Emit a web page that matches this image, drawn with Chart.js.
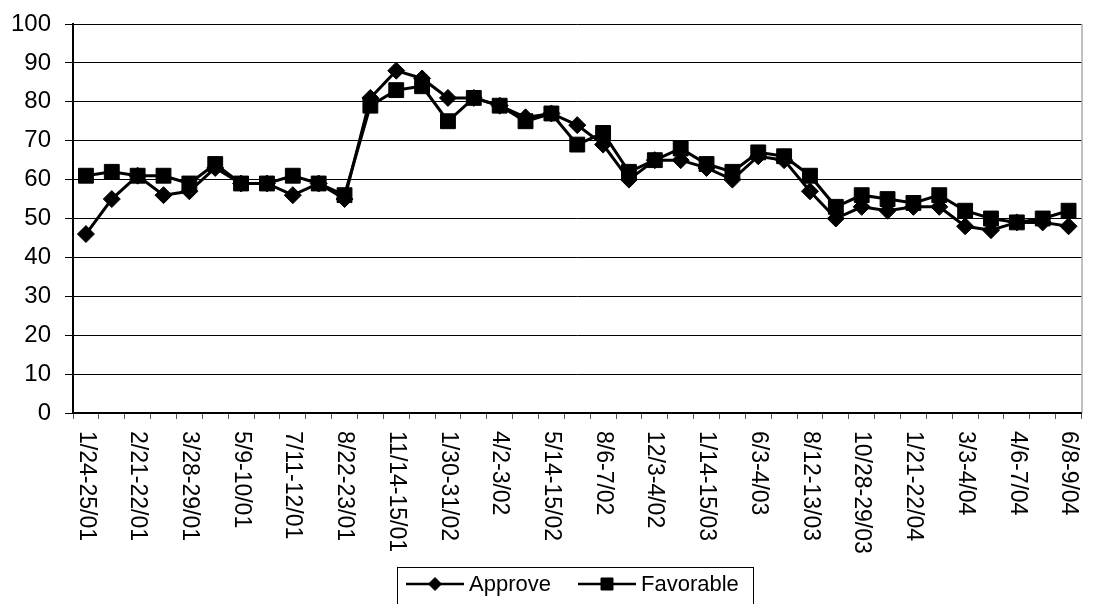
<!DOCTYPE html>
<html>
<head>
<meta charset="utf-8">
<script src="https://cdn.jsdelivr.net/npm/chart.js@4/dist/chart.umd.min.js"></script>
<style>
  html, body { margin: 0; padding: 0; background: #fff; }
</style>
</head>
<body>
<canvas id="poll" width="1093" height="604"></canvas>
<script>
// Poll dates, one label for every second survey
const dateLabels = [
    '1/24-25/01', '2/21-22/01', '3/28-29/01', '5/9-10/01', '7/11-12/01',
    '8/22-23/01', '11/14-15/01', '1/30-31/02', '4/2-3/02', '5/14-15/02',
    '8/6-7/02', '12/3-4/02', '1/14-15/03', '6/3-4/03', '8/12-13/03',
    '10/28-29/03', '1/21-22/04', '3/3-4/04', '4/6-7/04', '6/8-9/04'
];

const approve = [
    46, 55, 61, 56, 57, 63, 59, 59, 56, 59, 55,
    81, 88, 86, 81, 81, 79, 76, 77, 74, 69,
    60, 65, 65, 63, 60, 66, 65, 57, 50, 53,
    52, 53, 53, 48, 47, 49, 49, 48
];

const favorable = [
    61, 62, 61, 61, 59, 64, 59, 59, 61, 59, 56,
    79, 83, 84, 75, 81, 79, 75, 77, 69, 72,
    62, 65, 68, 64, 62, 67, 66, 61, 53, 56,
    55, 54, 56, 52, 50, 49, 50, 52
];

const yMin = 0;
const yMax = 100;
const yStep = 10;

const categories = approve.map((_, i) => (i % 2 === 0 ? dateLabels[i / 2] : ''));

const FONT = '"Liberation Sans", Arial, sans-serif';

// right frame edge, vertical date labels and boxed legend
const decorations = {
    id: 'decorations',
    afterDraw(chart) {
        const ctx = chart.ctx;
        const area = chart.chartArea;
        const xs = chart.scales.x;

        ctx.save();
        ctx.strokeStyle = '#808080';
        ctx.lineWidth = 1;
        ctx.beginPath();
        ctx.moveTo(area.right + 0.5, area.top);
        ctx.lineTo(area.right + 0.5, area.bottom);
        ctx.stroke();

        ctx.fillStyle = '#000';
        ctx.font = '23px ' + FONT;
        ctx.textAlign = 'left';
        ctx.textBaseline = 'middle';
        categories.forEach((lbl, i) => {
            if (!lbl) return;
            const x = xs.getPixelForValue(i);
            ctx.save();
            ctx.translate(x, area.bottom + 18);
            ctx.rotate(Math.PI / 2);
            ctx.fillText(lbl, 0, 0);
            ctx.restore();
        });

        // legend
        ctx.strokeStyle = '#000';
        ctx.lineWidth = 1;
        ctx.strokeRect(397.5, 567.5, 356, 60);
        const ly = 584;
        const entries = [
            { ds: chart.data.datasets[0], x0: 406, x1: 464 },
            { ds: chart.data.datasets[1], x0: 578, x1: 636 }
        ];
        entries.forEach(e => {
            ctx.strokeStyle = '#000';
            ctx.fillStyle = '#000';
            ctx.lineWidth = 2.5;
            ctx.beginPath();
            ctx.moveTo(e.x0, ly);
            ctx.lineTo(e.x1, ly);
            ctx.stroke();
            ctx.lineWidth = 1;
            Chart.helpers.drawPoint(ctx, {
                pointStyle: e.ds.pointStyle,
                radius: e.ds.pointRadius - 2,
                rotation: 0,
                borderWidth: 1
            }, (e.x0 + e.x1) / 2, ly);
            ctx.fillStyle = '#000';
            ctx.font = '22px ' + FONT;
            ctx.textBaseline = 'middle';
            ctx.fillText(e.ds.label, e.x1 + 5, ly + 1);
        });
        ctx.restore();
    }
};

new Chart(document.getElementById('poll'), {
    type: 'line',
    data: {
        labels: categories,
        datasets: [
            {
                label: 'Approve',
                data: approve,
                borderColor: '#000',
                backgroundColor: '#000',
                borderWidth: 3,
                pointStyle: 'rectRot',
                pointRadius: 8.5,
                pointBorderWidth: 1,
                pointBackgroundColor: '#000',
                pointBorderColor: '#000',
                tension: 0,
                order: 1
            },
            {
                label: 'Favorable',
                data: favorable,
                borderColor: '#000',
                backgroundColor: '#000',
                borderWidth: 3,
                pointStyle: 'rect',
                pointRadius: 10.5,
                pointBorderWidth: 1,
                pointBackgroundColor: '#000',
                pointBorderColor: '#000',
                tension: 0,
                order: 0
            }
        ]
    },
    options: {
        responsive: false,
        animation: false,
        devicePixelRatio: 1,
        layout: { padding: { top: 24, right: 1, left: 0, bottom: 0 } },
        plugins: {
            legend: { display: false },
            tooltip: { enabled: false }
        },
        scales: {
            x: {
                type: 'category',
                offset: true,
                grid: {
                    offset: true,
                    drawOnChartArea: false,
                    drawTicks: true,
                    tickLength: 6,
                    color: '#555',
                    lineWidth: 1
                },
                border: { color: '#000', width: 2 },
                ticks: { display: false, autoSkip: false },
                afterFit(scale) { scale.height = 191; }
            },
            y: {
                min: yMin,
                max: yMax,
                ticks: {
                    stepSize: yStep,
                    color: '#000',
                    padding: 14,
                    font: { size: 24, family: FONT }
                },
                grid: {
                    color: '#000',
                    lineWidth: 1,
                    drawTicks: true,
                    tickLength: 8
                },
                border: { color: '#000', width: 2 },
                afterFit(scale) {
                    scale.width = 73;
                    scale.paddingTop = 0;
                    scale.paddingBottom = 0;
                }
            }
        }
    },
    plugins: [decorations]
});
</script>
</body>
</html>
